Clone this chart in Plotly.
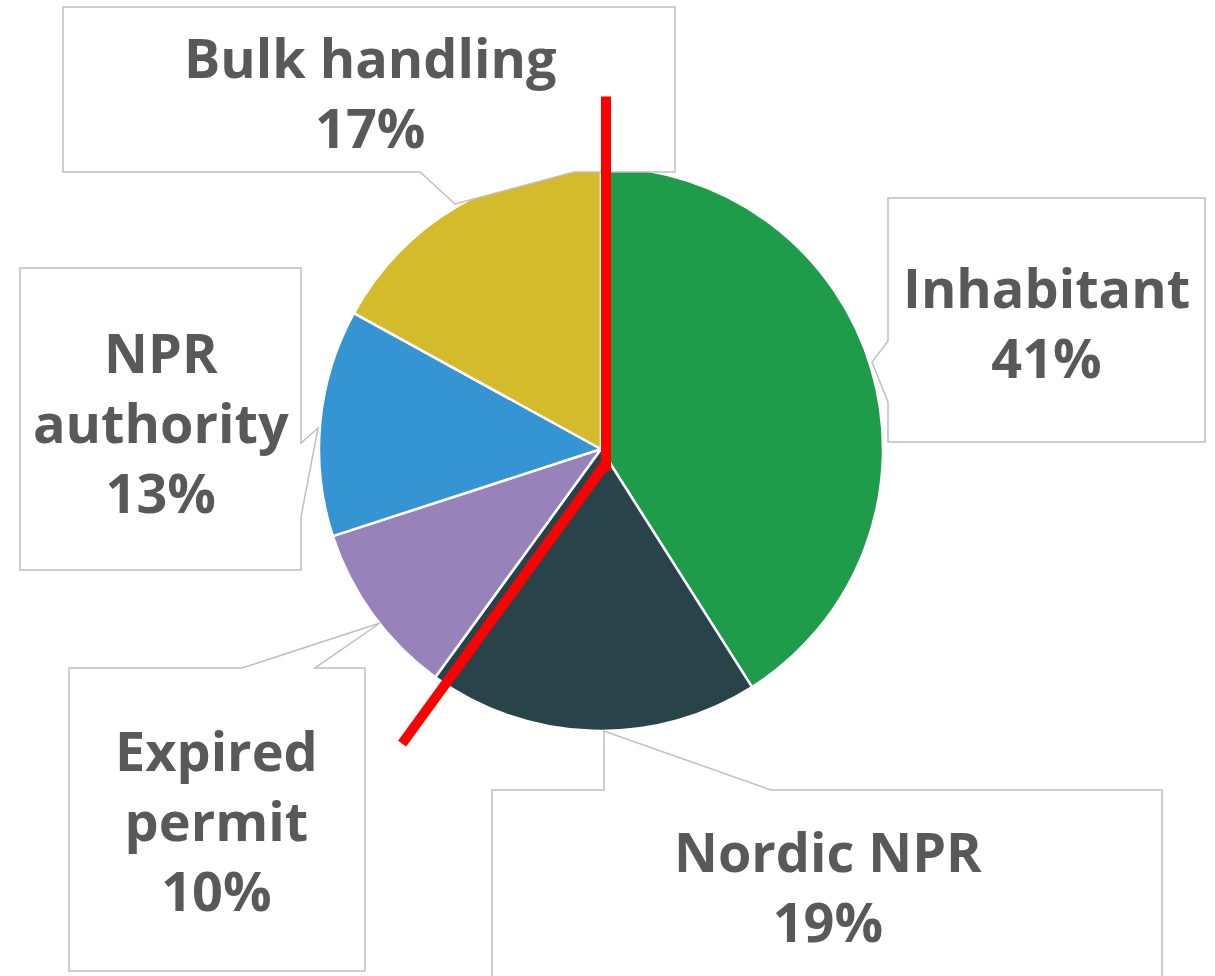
import math
import plotly.graph_objects as go

# ---- data ----
categories = ["Inhabitant", "Nordic NPR", "Expired permit", "NPR authority", "Bulk handling"]
shares = [41, 19, 10, 13, 17]
label_text = ["Inhabitant<br>41%", "Nordic NPR<br>19%", "Expired<br>permit<br>10%",
              "NPR<br>authority<br>13%", "Bulk handling<br>17%"]
colors = ["#1e9c4a", "#29434a", "#9783ba", "#3594d2", "#d3bb2b"]

W, H = 1215, 976
OFF = 0  # body margin removed via post_script
CX, CY, R = 601, 449, 282


def px(x):
    return (x - OFF) / W


def py(y):
    return 1 - (y - OFF) / H


fig = go.Figure()
fig.add_trace(go.Pie(
    labels=categories, values=shares, sort=False, direction="clockwise", rotation=0,
    marker=dict(colors=colors, line=dict(color="white", width=2.5)),
    textinfo="none", hoverinfo="label+percent", showlegend=False,
    domain=dict(x=[px(CX - R), px(CX + R)], y=[py(CY + R), py(CY - R)]),
))

# callout boxes: (box left, top, right, bottom), pointer polyline inserted on a side
callouts = [
    dict(box=(888, 198, 1205, 442), side="left", base=(341, 402), tip=(872, 362), text=(1046, 322)),
    dict(box=(492, 790, 1162, 1010), side="top", base=(604, 771), tip=(604, 731), text=(828, 886)),
    dict(box=(69, 668, 365, 971), side="top", base=(242, 315), tip=(380, 623), text=(217, 820)),
    dict(box=(20, 268, 301, 570), side="right", base=(443, 517), tip=(318, 428), text=(161, 422)),
    dict(box=(63, 7, 675, 172), side="bottom", base=(420, 574), tip=(455, 204), text=(370, 92)),
]

shapes = []
for c in callouts:
    l, t, r, b = c["box"]
    b1, b2 = c["base"]
    tx, ty = c["tip"]
    if c["side"] == "left":
        pts = [(l, t), (r, t), (r, b), (l, b), (l, b2), (tx, ty), (l, b1)]
    elif c["side"] == "right":
        pts = [(l, t), (r, t), (r, b1), (tx, ty), (r, b2), (r, b), (l, b)]
    elif c["side"] == "top":
        pts = [(l, t), (b1, t), (tx, ty), (b2, t), (r, t), (r, b), (l, b)]
    else:
        pts = [(l, t), (r, t), (r, b), (b2, b), (tx, ty), (b1, b), (l, b)]
    path = "M " + " L ".join(f"{px(x):.5f},{py(y):.5f}" for x, y in pts) + " Z"
    shapes.append(dict(type="path", xref="paper", yref="paper", path=path,
                       fillcolor="white", line=dict(color="#bfbfbf", width=1.5), layer="above"))

# red "clock hand" marker: vertical up from centre and along the Nordic NPR / Expired permit boundary
boundary_frac = sum(shares[:2]) / sum(shares)
ang = 2 * math.pi * boundary_frac
L = 1.25 * R
sx = CX + 5
shapes.append(dict(type="line", xref="paper", yref="paper",
                   x0=px(sx), y0=py(CY - L), x1=px(sx), y1=py(CY + 22),
                   line=dict(color="#ff0000", width=10), layer="above"))
d0x, d0y = sx, CY + 14
Ld = 1.23 * R
shapes.append(dict(type="line", xref="paper", yref="paper",
                   x0=px(d0x), y0=py(d0y),
                   x1=px(d0x + Ld * math.sin(ang)), y1=py(d0y - Ld * math.cos(ang)),
                   line=dict(color="#ff0000", width=10), layer="above"))

annotations = []
for c, txt in zip(callouts, label_text):
    x, y = c["text"]
    annotations.append(dict(x=px(x), y=py(y), xref="paper", yref="paper", text=txt,
                            showarrow=False, xanchor="center", yanchor="middle",
                            font=dict(family="Open Sans", size=54, color="#595959", weight=700)))

fig.update_layout(width=W, height=H, margin=dict(l=0, r=0, t=0, b=0),
                  paper_bgcolor="white", plot_bgcolor="white",
                  shapes=shapes, annotations=annotations)
fig.write_html("out.html", config={"displayModeBar": False},
               post_script="document.body.style.margin='0';document.body.style.overflow='hidden';")
